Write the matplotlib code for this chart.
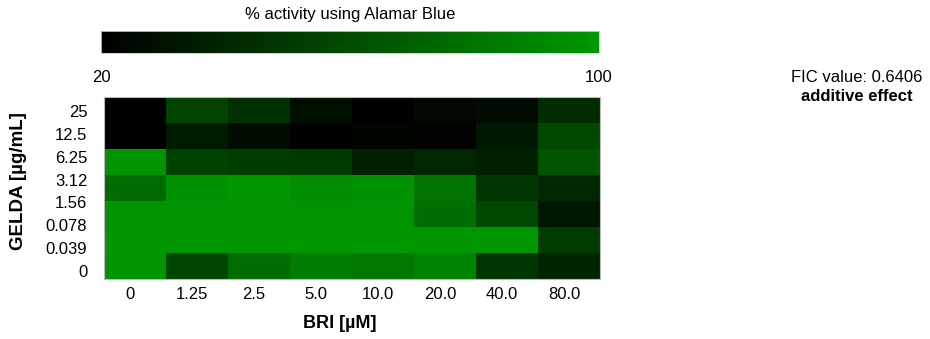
import numpy as np
import matplotlib
matplotlib.use("Agg")
import matplotlib.pyplot as plt
from matplotlib.colors import LinearSegmentedColormap
from matplotlib.transforms import ScaledTranslation

plt.rcParams['font.family'] = ['Liberation Sans', 'DejaVu Sans']

bri_labels = ["0", "1.25", "2.5", "5.0", "10.0", "20.0", "40.0", "80.0"]
gelda_labels = ["25", "12.5", "6.25", "3.12", "1.56", "0.078", "0.039", "0"]

# % activity (rows top to bottom as drawn; 7 rows of cells)
row1 = [20.0, 55.6, 45.1, 28.4, 20.0, 24.2, 26.3, 43.0]
row2 = [20.0, 34.6, 26.3, 20.0, 22.6, 21.6, 32.5, 57.6]
row3 = [97.4, 54.5, 52.4, 50.3, 36.7, 40.9, 36.7, 63.9]
row4 = [76.5, 96.3, 98.4, 94.2, 96.3, 81.7, 47.2, 40.9]
row5 = [97.4, 97.4, 97.4, 97.4, 97.4, 77.5, 57.6, 32.5]
row6 = [98.4, 98.4, 98.4, 98.4, 98.4, 98.4, 98.4, 51.4]
row7 = [97.4, 56.6, 76.5, 84.8, 82.7, 89.0, 47.2, 38.8]
activity = np.array([row1, row2, row3, row4, row5, row6, row7])

vmin, vmax = 20, 100
fic_value = 0.6406
effect = "additive effect"

cmap = LinearSegmentedColormap.from_list("bg", ["#000000", "#009900"])

fig = plt.figure(figsize=(9.3, 3.39), dpi=100)
ax = fig.add_axes([104/930, 1-279/339, 496/930, 182/339])

nrow, ncol = activity.shape
xedges = np.arange(ncol + 1)
yedges = np.linspace(0, len(gelda_labels), nrow + 1)
mesh = ax.pcolormesh(xedges, yedges, activity, cmap=cmap, vmin=vmin, vmax=vmax)
ax.set_xlim(0, ncol)
ax.set_ylim(len(gelda_labels), 0)

ax.set_xticks(np.arange(ncol) + 0.5)
ax.set_xticklabels(bri_labels, fontsize=12)
ax.set_yticks(np.arange(len(gelda_labels)) + 0.5)
ax.set_yticklabels(gelda_labels, fontsize=12)
ax.tick_params(axis='x', length=0, pad=6)
ax.tick_params(axis='y', length=0, pad=12)
for lab in ax.xaxis.get_majorticklabels():
    lab.set_transform(lab.get_transform() + ScaledTranslation(-5/100, 0, fig.dpi_scale_trans))
for lab in ax.yaxis.get_majorticklabels():
    lab.set_transform(lab.get_transform() + ScaledTranslation(0, -3/100, fig.dpi_scale_trans))
for s in ax.spines.values():
    s.set_color('#bbbbbb')
    s.set_linewidth(0.8)

ax.set_xlabel("BRI [µM]", fontsize=13, fontweight='bold')
ax.xaxis.set_label_coords((340-104)/496, -0.2)
ax.set_ylabel("GELDA [µg/mL]", fontsize=13.5, fontweight='bold')
ax.yaxis.set_label_coords((27-104)/496, (279-181)/182)

cax = fig.add_axes([101/930, 1-53/339, 498/930, 22/339])
cb = fig.colorbar(mesh, cax=cax, orientation='horizontal')
cb.set_ticks([vmin, vmax])
cb.set_ticklabels([str(vmin), str(vmax)])
cb.outline.set_edgecolor('#cccccc')
cb.outline.set_linewidth(0.6)
cax.tick_params(length=0, pad=12, labelsize=12)
cax.set_title("% activity using Alamar Blue", fontsize=12, pad=9)

fig.text(857/930, 1-78/339, f"FIC value: {fic_value}", ha='center', va='center', fontsize=12)
fig.text(857/930, 1-97/339, effect, ha='center', va='center', fontsize=12, fontweight='bold')

fig.savefig("out.png", dpi=100)
